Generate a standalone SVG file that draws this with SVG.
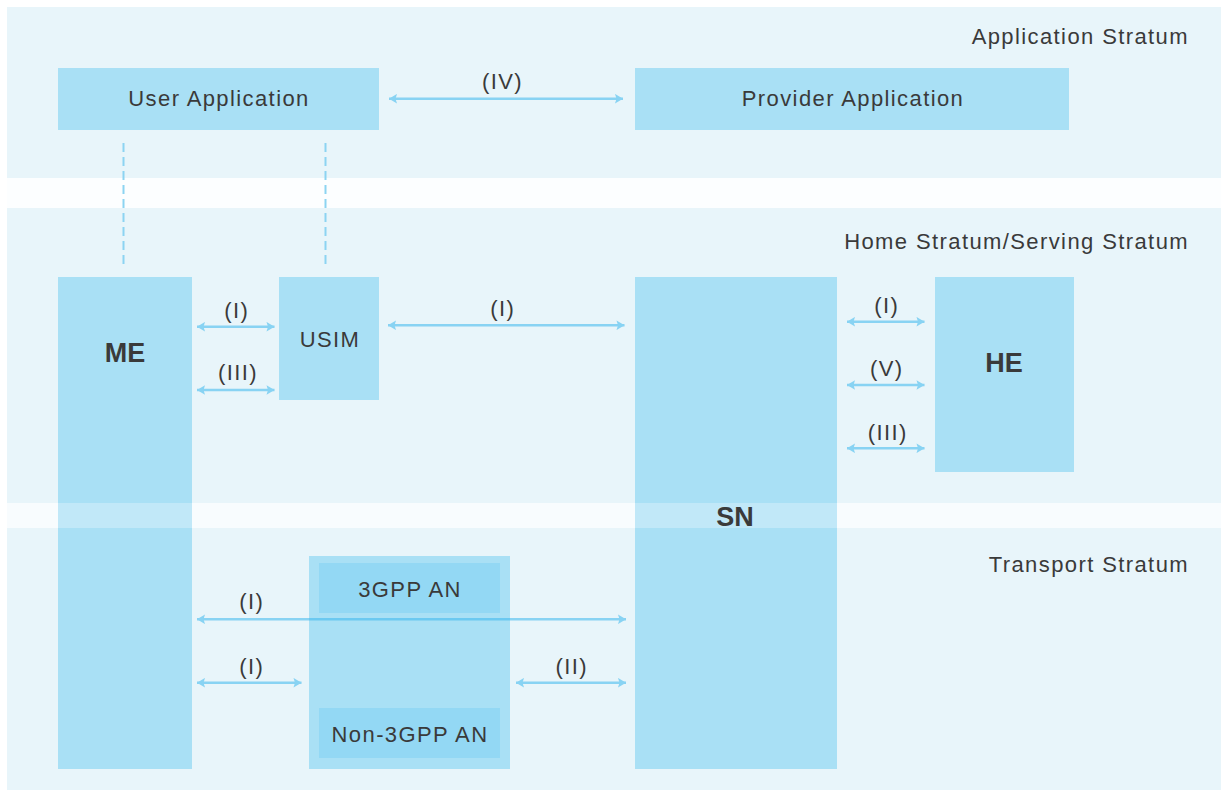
<svg xmlns="http://www.w3.org/2000/svg" width="1221" height="792" viewBox="0 0 1221 792">
<style>
.band{fill:#e8f5fa}
.box{fill:#a9e0f5}
.inner{fill:#93d8f4}
.veil{fill:#ffffff;opacity:0.28}
.t{font-family:"Liberation Sans",Arial,sans-serif;font-size:22px;fill:#3a3a3a;letter-spacing:1.4px}
.b{font-family:"Liberation Sans",Arial,sans-serif;font-size:27px;font-weight:bold;fill:#3a3a3a}
.m{text-anchor:middle}
.e{text-anchor:end}
.dash{stroke:#8cd4f2;stroke-width:2;stroke-dasharray:9 5;fill:none}
.arr{stroke:#3ab8ee;stroke-width:2.6;fill:none;marker-start:url(#ah);marker-end:url(#ah)}
</style>
<defs>
<marker id="ah" viewBox="0 0 10 10" refX="9.5" refY="5" markerWidth="10" markerHeight="10" markerUnits="userSpaceOnUse" orient="auto-start-reverse">
<path d="M1.5,0.2 L9.5,5 L1.5,9.8 L3,5 Z" fill="#3ab8ee"/>
</marker>
</defs>
<rect x="0" y="0" width="1221" height="792" fill="#ffffff"/>
<g id="strata">
<rect class="band" x="7" y="7" width="1214" height="171"/>
<rect x="7" y="178" width="1214" height="30" fill="#fcfeff"/>
<rect class="band" x="7" y="208" width="1214" height="295"/>
<rect x="7" y="503" width="1214" height="25" fill="#f8fcfe"/>
<rect class="band" x="7" y="528" width="1214" height="262"/>
<text class="t e" x="1189" y="44">Application Stratum</text>
<text class="t e" x="1189" y="249">Home Stratum/Serving Stratum</text>
<text class="t e" x="1189" y="572">Transport Stratum</text>
</g>
<g id="user-application">
<rect class="box" x="58" y="68" width="321" height="62"/>
<text class="t m" x="219" y="106">User Application</text>
</g>
<g id="provider-application">
<rect class="box" x="635" y="68" width="434" height="62"/>
<text class="t m" x="853" y="106">Provider Application</text>
</g>
<g id="me">
<rect class="box" x="58" y="277" width="134" height="492"/>
<rect class="veil" x="58" y="503" width="134" height="25"/>
<text class="b m" x="125" y="362">ME</text>
</g>
<g id="usim">
<rect class="box" x="279" y="277" width="100" height="123"/>
<text class="t m" x="330" y="346.5">USIM</text>
</g>
<g id="sn">
<rect class="box" x="635" y="277" width="202" height="492"/>
<rect class="veil" x="635" y="503" width="202" height="25"/>
<text class="b m" x="735" y="526">SN</text>
</g>
<g id="he">
<rect class="box" x="935" y="277" width="139" height="195"/>
<text class="b m" x="1004" y="372">HE</text>
</g>
<g id="access-network">
<rect class="box" x="309" y="556" width="201" height="213"/>
<g id="3gpp-an">
<rect class="inner" x="319" y="563" width="181" height="50"/>
<text class="t m" x="410" y="597">3GPP AN</text>
</g>
<g id="non-3gpp-an">
<rect class="inner" x="319" y="708" width="181" height="50"/>
<text class="t m" x="410" y="742">Non-3GPP AN</text>
</g>
</g>
<g id="connectors">
<line class="dash" x1="123.5" y1="143" x2="123.5" y2="268"/>
<line class="dash" x1="325.5" y1="143" x2="325.5" y2="268"/>
<g opacity="0.55">
<path class="arr" d="M389,98.7 H623"/>
<path class="arr" d="M197,326.7 H274.5"/>
<path class="arr" d="M197,390 H274.5"/>
<path class="arr" d="M388,325.3 H624.5"/>
<path class="arr" d="M847,321.7 H924.5"/>
<path class="arr" d="M847,385 H924.5"/>
<path class="arr" d="M847,448.3 H924.5"/>
<path class="arr" d="M197,619.3 H626"/>
<path class="arr" d="M197,682.7 H301.5"/>
<path class="arr" d="M516,682.7 H626"/>
</g>
<text class="t m" x="502.5" y="89">(IV)</text>
<text class="t m" x="236.7" y="318">(I)</text>
<text class="t m" x="238" y="380">(III)</text>
<text class="t m" x="502.7" y="316">(I)</text>
<text class="t m" x="886.7" y="312.5">(I)</text>
<text class="t m" x="886.7" y="376">(V)</text>
<text class="t m" x="887.7" y="439.5">(III)</text>
<text class="t m" x="251.7" y="609">(I)</text>
<text class="t m" x="251.7" y="674">(I)</text>
<text class="t m" x="571.7" y="674">(II)</text>
</g>
</svg>
